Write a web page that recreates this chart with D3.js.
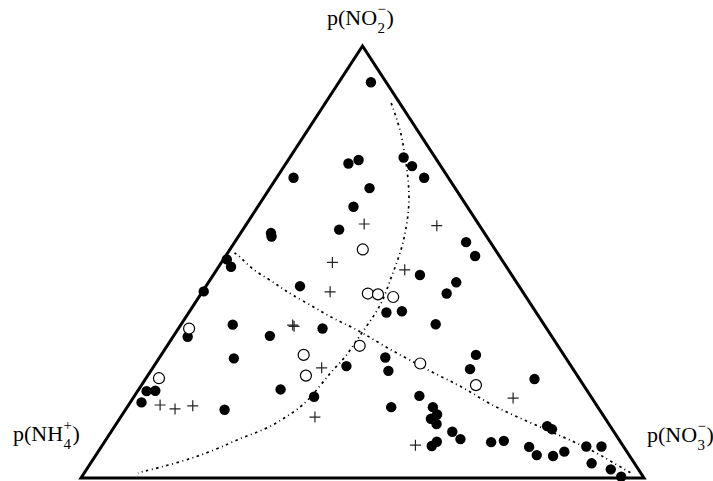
<!DOCTYPE html>
<html>
<meta charset="UTF-8">
<style>
body { margin: 0; background: #fff; }
svg { display: block; }

.edge {
	fill: none;
	stroke: #000;
	stroke-width: 3px;
	stroke-linejoin: miter;
}

.curve {
	fill: none;
	stroke: #000;
	stroke-width: 1.7px;
	stroke-dasharray: 2.5,3.5,1,3.5;
}

.dot { fill: #000; }
.ring { fill: #fff; stroke: #000; stroke-width: 1.2px; }
.cross { stroke: #222; stroke-width: 1.2px; }

text { font-family: "Liberation Serif", "Times New Roman", serif; fill: #000; }
</style>
<svg width="713" height="481"></svg>
<script src="https://d3js.org/d3.v7.min.js"></script>
<script>
//	corner labels: base text, subscript, superscript
var labelTop = ["p(NO", "2", "\u2212"],
	labelLeft = ["p(NH", "4", "+"],
	labelRight = ["p(NO", "3", "\u2212"];

//	samples as [p(NO2-) %, p(NO3-) %]; p(NH4+) is the rest
var filled = [[91.6,5.7],[74.2,20.2],[72.2,22.7],[69.5,26.2],[72.8,11.1],[73.6,12.5],
	[69.5,3.0],[67.1,17.7],[62.8,17.0],[57.5,17.1],[56.7,5.4],[55.9,5.9],[54.6,41.1],
	[51.4,44.3],[47.0,36.7],[45.3,44.0],[42.7,43.6],[44.4,16.7],[50.6,0.6],[48.9,2.2],
	[43.2,0.2],[32.7,2.6],[35.5,9.2],[32.9,17.1],[34.6,25.6],[38.3,35.1],[38.6,37.7],
	[35.6,45.2],[27.7,13.3],[25.9,34.2],[27.9,40.1],[24.8,42.2],[28.5,55.9],[25.2,56.5],
	[22.9,69.1],[20.5,25.2],[18.8,32.0],[20.1,1.6],[20.2,3.1],[17.5,2.0],[15.8,17.6],
	[19.0,50.6],[16.4,46.9],[16.4,54.3],[14.7,55.9],[13.7,55.3],[12.5,56.9],[10.7,60.6],
	[9.0,62.9],[7.4,58.6],[8.4,59.0],[8.3,68.7],[8.6,70.8],[12.0,76.8],[11.3,78.0],
	[7.2,76.0],[5.3,78.3],[5.1,81.3],[6.1,82.8],[7.3,86.1],[7.3,88.8],[3.4,89.0],
	[2.0,93.1],[0.3,95.8]];

var open = [[52.9,23.6],[42.7,29.6],[42.5,31.5],[41.9,34.5],[30.6,34.2],[28.5,25.3],
	[23.7,28.1],[26.5,47.0],[21.5,59.4],[34.6,1.9],[23.1,2.3]];

var plus = [[58.8,20.9],[58.4,34.0],[49.9,19.7],[48.2,33.4],[43.1,22.7],[35.4,19.9],
	[35.1,20.3],[25.5,30.0],[14.1,34.5],[18.5,67.5],[7.6,55.6],[16.9,5.6],[16.0,8.7],
	[16.7,11.5]];

//	the two dash-dot reference curves
var curveA = [[86.8,11.7],[82.9,14.7],[78.9,17.6],[71.3,22.3],[65.5,25.6],[61.3,27.5],
	[57.4,29.0],[53.5,30.3],[49.3,31.3],[45.8,32.0],[41.2,33.1],[37.3,33.3],[33.1,33.0],
	[28.0,33.1],[24.5,32.0],[17.3,31.5],[14.2,29.4],[11.3,27.3],[9.2,23.6],[6.6,20.8],
	[3.6,15.8],[1.2,9.5]];

var curveB = [[52.1,1.2],[51.2,2.7],[48.1,6.5],[46.3,9.9],[44.2,13.3],[42.6,15.9],
	[39.4,21.9],[37.3,25.6],[35.9,28.6],[33.6,33.3],[30.1,39.3],[27.3,44.8],[23.8,51.4],
	[21.1,57.3],[17.4,63.4],[14.6,69.4],[11.1,77.2],[8.8,82.5],[5.8,88.8],[3.0,93.7],
	[0.9,97.6]];

var svg = d3.select("svg");

//	ternary projection: height from NO2, horizontal from NO3 + NO2/2
var x = d3.scaleLinear().domain([0, 100]).range([81, 644]),
	y = d3.scaleLinear().domain([0, 100]).range([478, 46]);

function px(d) { return x(d[1] + d[0] / 2); }
function py(d) { return y(d[0]); }

//	triangle frame
var corners = [[100, 0], [0, 0], [0, 100]];
svg.append("path")
	.attr("class", "edge")
	.attr("d", "M" + corners.map(function(d) { return px(d) + "," + py(d); }).join("L") + "Z");

//	curves
var line = d3.line().x(px).y(py).curve(d3.curveBasis);
svg.selectAll(".curve")
	.data([curveA, curveB])
	.enter().append("path")
	.attr("class", "curve")
	.attr("d", line);

//	markers
svg.append("g").selectAll("circle")
	.data(filled)
	.enter().append("circle")
	.attr("class", "dot")
	.attr("r", 5.2)
	.attr("cx", px)
	.attr("cy", py);

svg.append("g").selectAll("circle")
	.data(open)
	.enter().append("circle")
	.attr("class", "ring")
	.attr("r", 5.5)
	.attr("cx", px)
	.attr("cy", py);

svg.append("g").selectAll("path")
	.data(plus)
	.enter().append("path")
	.attr("class", "cross")
	.attr("d", "M-5.5,0H5.5M0,-5.5V5.5")
	.attr("transform", function(d) { return "translate(" + px(d) + "," + py(d) + ")"; });

//	chemical labels with stacked sub/superscript
function chemLabel(lab, left, base) {
	var g = svg.append("g").attr("transform", "translate(" + left + "," + base + ")");
	var t = g.append("text").attr("font-size", 22).text(lab[0]);
	var w = t.node().getComputedTextLength();
	var s1 = g.append("text").attr("x", w + 0.5).attr("y", 8).attr("font-size", 15).text(lab[1]);
	var s2 = g.append("text").attr("x", w + 0.5).attr("y", -11).attr("font-size", 15).text(lab[2]);
	var sw = Math.max(s1.node().getComputedTextLength(), s2.node().getComputedTextLength());
	g.append("text").attr("x", w + sw + 1).attr("font-size", 22).text(")");
}

chemLabel(labelTop, 327, 25);
chemLabel(labelLeft, 13, 441);
chemLabel(labelRight, 647, 442);

</script>
